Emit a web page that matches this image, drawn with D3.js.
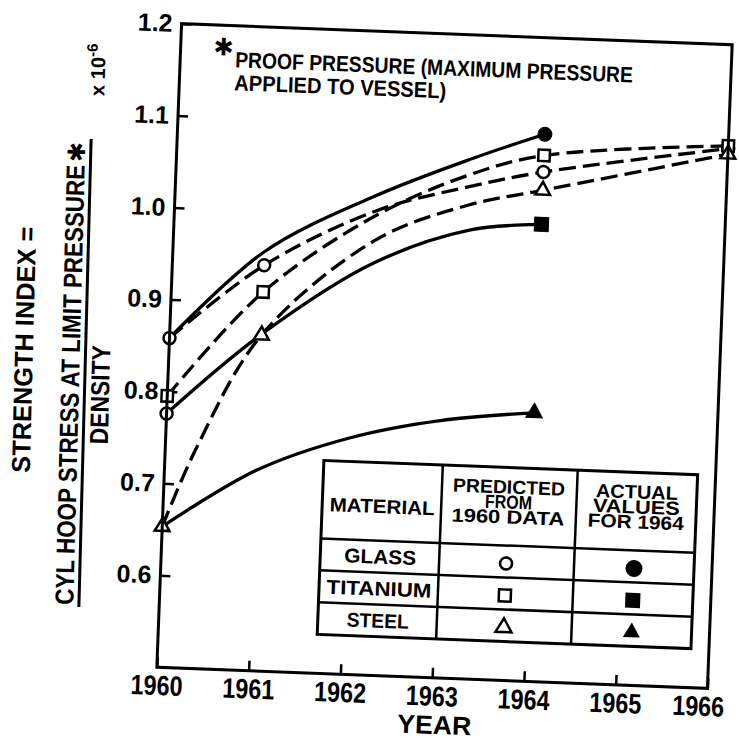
<!DOCTYPE html>
<html>
<head>
<meta charset="utf-8">
<script src="https://cdn.jsdelivr.net/npm/d3@7"></script>
<style>
body { margin: 0; background: #fff; }
svg text { font-family: "Liberation Sans", Arial, sans-serif; font-weight: bold; fill: #000; }
</style>
</head>
<body>
<div id="chart"></div>
<script>
// values
var xTicks = [1960, 1961, 1962, 1963, 1964, 1965, 1966];
var yTicks = [0.6, 0.7, 0.8, 0.9, 1.0, 1.1, 1.2];
var markerYears = [1960, 1961, 1964, 1966];
var actualYears = [1964];

var glassPredicted = [[1960, 0.858], [1961, 0.941], [1962.2, 1.005], [1963.2, 1.035], [1964, 1.054], [1966, 1.087]];
var titaniumPredicted = [[1960, 0.795], [1961, 0.912], [1962.2, 1.0], [1963.2, 1.048], [1964, 1.072], [1966, 1.09]];
var steelPredicted = [[1960, 0.653], [1960.34, 0.74], [1961, 0.865], [1962.2, 0.973], [1963.2, 1.015], [1964, 1.034], [1966, 1.081]];

var glassActual = [[1960, 0.858], [1961, 0.956], [1962.16, 1.02], [1963.23, 1.066], [1964, 1.095]];
var titaniumActual = [[1960, 0.776], [1961, 0.866], [1962.19, 0.948], [1963.23, 0.988], [1964, 0.997]];
var steelActual = [[1960, 0.653], [1961, 0.718], [1962, 0.757], [1963, 0.78], [1964, 0.792]];

// odd extra open mark at the foot of the titanium curves
var extraMarks = [[1960, 0.776]];

var materials = ["GLASS", "TITANIUM", "STEEL"];
var headPredicted = ["PREDICTED", "FROM", "1960 DATA"];
var headActual = ["ACTUAL", "VALUES", "FOR 1964"];
var noteLines = ["PROOF PRESSURE (MAXIMUM PRESSURE", "APPLIED TO VESSEL)"];

var W = 739, H = 747;
var tilt = 2.2; // the scan is turned a little
var frame = {left: 169, top: 34, width: 551, height: 644};

var svg = d3.select("#chart").append("svg")
  .attr("width", W)
  .attr("height", H);

svg.append("rect").attr("width", W).attr("height", H).attr("fill", "#fff");

var scan = svg.append("g").attr("transform", "rotate(" + tilt + ",444.5,356)");
var g = scan.append("g").attr("transform", "translate(" + frame.left + "," + frame.top + ")");

var x = d3.scaleLinear().domain([1960, 1966]).range([0, frame.width]);
var y = d3.scaleLinear().domain([0.5, 1.2]).range([frame.height, 0]);

// axes, ticks pointing inwards
var yAxis = g.append("g")
  .call(d3.axisLeft(y).tickValues(yTicks).tickSize(-10).tickPadding(9).tickFormat(d3.format(".1f")));
yAxis.attr("font-family", null).attr("font-size", null);
yAxis.select(".domain").remove();
yAxis.selectAll(".tick line").attr("stroke-width", 2.5);
yAxis.selectAll(".tick text").style("font-size", "25px");

var xAxis = g.append("g")
  .attr("transform", "translate(0," + frame.height + ")")
  .call(d3.axisBottom(x).tickValues(xTicks).tickSize(-10).tickPadding(8).tickFormat(d3.format("d")));
xAxis.attr("font-family", null).attr("font-size", null);
xAxis.select(".domain").remove();
xAxis.selectAll(".tick line").attr("stroke-width", 2.5);
xAxis.selectAll(".tick text")
  .style("font-size", "28px")
  .attr("textLength", 52)
  .attr("lengthAdjust", "spacingAndGlyphs")
  .attr("dx", function(d) { return d == 1966 ? -9 : 0; });

g.append("text")
  .attr("x", x(1963) + 4)
  .attr("y", frame.height + 56)
  .attr("text-anchor", "middle")
  .attr("textLength", 74)
  .attr("lengthAdjust", "spacingAndGlyphs")
  .style("font-size", "26px")
  .text("YEAR");

// curves
var line = d3.line()
  .x(function(d) { return x(d[0]); })
  .y(function(d) { return y(d[1]); })
  .curve(d3.curveCatmullRom.alpha(0.5));

var series = [
  {data: glassActual, dash: false, shape: d3.symbolCircle, size: 154, filled: true},
  {data: titaniumActual, dash: false, shape: d3.symbolSquare, size: 196, filled: true},
  {data: steelActual, dash: false, shape: d3.symbolTriangle, size: 120, filled: true},
  {data: glassPredicted, dash: true, shape: d3.symbolCircle, size: 113, filled: false},
  {data: titaniumPredicted, dash: true, shape: d3.symbolSquare, size: 130, filled: false},
  {data: steelPredicted, dash: true, shape: d3.symbolTriangle, size: 95, filled: false}
];

series.forEach(function(s) {
  g.append("path")
    .attr("d", line(s.data))
    .attr("fill", "none")
    .attr("stroke", "#000")
    .attr("stroke-width", 3.3)
    .attr("stroke-dasharray", s.dash ? "17,7" : null);
});

series.forEach(function(s) {
  var yrs = s.filled ? actualYears : markerYears;
  s.data.filter(function(d) { return yrs.indexOf(d[0]) != -1; }).forEach(function(d) {
    g.append("path")
      .attr("d", d3.symbol().type(s.shape).size(s.size)())
      .attr("transform", "translate(" + x(d[0]) + "," + y(d[1]) + ")")
      .attr("fill", s.filled ? "#000" : "#fff")
      .attr("stroke", "#000")
      .attr("stroke-width", s.filled ? 1 : 2.5);
  });
});

extraMarks.forEach(function(d) {
  g.append("path")
    .attr("d", d3.symbol().type(d3.symbolCircle).size(113)())
    .attr("transform", "translate(" + x(d[0]) + "," + y(d[1]) + ")")
    .attr("fill", "#fff")
    .attr("stroke", "#000")
    .attr("stroke-width", 2.5);
});

// frame
g.append("rect")
  .attr("width", frame.width)
  .attr("height", frame.height)
  .attr("fill", "none")
  .attr("stroke", "#000")
  .attr("stroke-width", 3);

// footnote
g.append("text")
  .attr("x", 43)
  .attr("y", 22)
  .attr("text-anchor", "middle")
  .attr("dominant-baseline", "central")
  .style("font-family", "DejaVu Sans")
  .style("font-size", "24px")
  .text("\u2731");

noteLines.forEach(function(t, i) {
  g.append("text")
    .attr("x", 55)
    .attr("y", 41.5 + i * 23)
    .attr("textLength", i == 0 ? 398 : 212)
    .attr("lengthAdjust", "spacingAndGlyphs")
    .style("font-size", "22px")
    .text(t);
});

// key table
var tab = g.append("g").attr("transform", "translate(159,431)");
var colX = [0, 119, 254, 374];
var rowY = [0, 78, 110, 142, 174];

tab.append("rect")
  .attr("width", colX[3])
  .attr("height", rowY[4])
  .attr("fill", "#fff")
  .attr("stroke", "#000")
  .attr("stroke-width", 3);

[1, 2].forEach(function(i) {
  tab.append("line")
    .attr("x1", colX[i]).attr("x2", colX[i])
    .attr("y1", 0).attr("y2", rowY[4])
    .attr("stroke", "#000").attr("stroke-width", 2.5);
});
[1, 2, 3].forEach(function(i) {
  tab.append("line")
    .attr("x1", 0).attr("x2", colX[3])
    .attr("y1", rowY[i]).attr("y2", rowY[i])
    .attr("stroke", "#000").attr("stroke-width", 2.5);
});

function cell(txt, cx, by, len, fs) {
  tab.append("text")
    .attr("x", cx)
    .attr("y", by)
    .attr("text-anchor", "middle")
    .attr("textLength", len)
    .attr("lengthAdjust", "spacingAndGlyphs")
    .style("font-size", fs + "px")
    .text(txt);
}

cell("MATERIAL", 60, 50.5, 105, 19.5);
var predLen = [112, 47, 113];
var actLen = [82, 87, 96];
headPredicted.forEach(function(t, i) { cell(t, 186, 26 + i * 15, predLen[i], 19); });
headActual.forEach(function(t, i) { cell(t, 314, 26 + i * 15, actLen[i], 19); });

var matLen = [72, 105, 62];
var predShapes = [d3.symbolCircle, d3.symbolSquare, d3.symbolTriangle];
var openSize = [113, 144, 111];
var fillSize = [227, 225, 125];
materials.forEach(function(m, i) {
  var cy = (rowY[i + 1] + rowY[i + 2]) / 2;
  cell(m, 60, cy + 7, matLen[i], 20);
  tab.append("path")
    .attr("d", d3.symbol().type(predShapes[i]).size(openSize[i])())
    .attr("transform", "translate(186," + (cy + 2) + ")")
    .attr("fill", "#fff").attr("stroke", "#000").attr("stroke-width", 2.5);
  tab.append("path")
    .attr("d", d3.symbol().type(predShapes[i]).size(fillSize[i])())
    .attr("transform", "translate(314," + (cy + 2) + ")")
    .attr("fill", "#000");
});

// y title, placed in page coordinates
var titleTilt = 1.5;
function vtext(txt, bx, cy, len, fs) {
  return svg.append("text")
    .attr("transform", "translate(" + bx + "," + cy + ") rotate(" + (-90 + titleTilt) + ")")
    .attr("text-anchor", "middle")
    .attr("textLength", len)
    .attr("lengthAdjust", "spacingAndGlyphs")
    .style("font-size", fs + "px")
    .text(txt);
}

vtext("STRENGTH INDEX =", 33, 350, 246, 26);
vtext("CYL HOOP STRESS AT LIMIT PRESSURE", 79, 385, 440, 26);
vtext("DENSITY", 109, 395, 99, 26);

svg.append("text")
  .attr("transform", "translate(77,152) rotate(" + (-90 + titleTilt) + ")")
  .attr("text-anchor", "middle")
  .attr("dominant-baseline", "central")
  .style("font-family", "DejaVu Sans")
  .style("font-size", "24px")
  .text("\u2731");

svg.append("line")
  .attr("x1", 85).attr("x2", 85)
  .attr("y1", 139).attr("y2", 607)
  .attr("transform", "rotate(" + titleTilt + ",85,373)")
  .attr("stroke", "#000")
  .attr("stroke-width", 3);

var ten = svg.append("text")
  .attr("transform", "translate(105,70) rotate(" + (-90 + titleTilt) + ")")
  .attr("text-anchor", "middle")
  .style("font-size", "20px");
ten.append("tspan").text("x 10");
ten.append("tspan").attr("dy", -8).style("font-size", "15px").text("-6");
</script>
</body>
</html>
